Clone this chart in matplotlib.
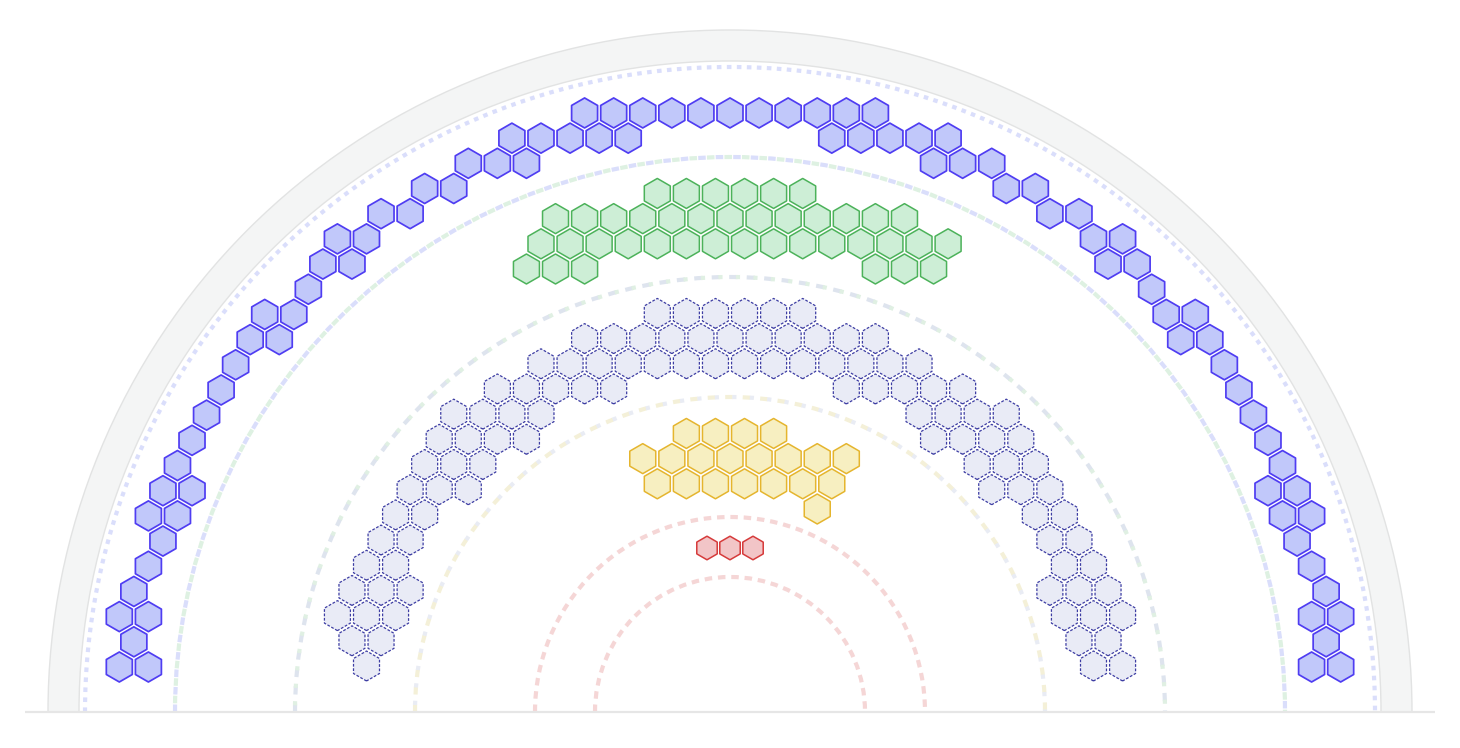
import numpy as np
import matplotlib.pyplot as plt
from matplotlib.patches import RegularPolygon, Wedge, Arc

# seat layout per party: rows listed from the bottom row upwards,
# each row holds column positions in half-hex steps (0 = centre line)
blue_rows = [
    [-42, -40, 40, 42], [-41, 41], [-42, -40, 40, 42], [-41, 41],
    [-40, 40], [-39, 39], [-40, -38, 38, 40], [-39, -37, 37, 39],
    [-38, 38], [-37, 37], [-36, 36], [-35, 35], [-34, 34],
    [-33, -31, 31, 33], [-32, -30, 30, 32], [-29, 29],
    [-28, -26, 26, 28], [-27, -25, 25, 27], [-24, -22, 22, 24],
    [-21, -19, 19, 21], [-18, -16, -14, 14, 16, 18],
    [-15, -13, -11, -9, -7, 7, 9, 11, 13, 15],
    [-10, -8, -6, -4, -2, 0, 2, 4, 6, 8, 10],
]
green_rows = [
    [-14, -12, -10, 10, 12, 14],
    [-13, -11, -9, -7, -5, -3, -1, 1, 3, 5, 7, 9, 11, 13, 15],
    [-12, -10, -8, -6, -4, -2, 0, 2, 4, 6, 8, 10, 12],
    [-5, -3, -1, 1, 3, 5],
]
grey_rows = [
    [-25, 25, 27], [-26, -24, 24, 26], [-27, -25, -23, 23, 25, 27],
    [-26, -24, -22, 22, 24, 26], [-25, -23, 23, 25], [-24, -22, 22, 24],
    [-23, -21, 21, 23], [-22, -20, -18, 18, 20, 22],
    [-21, -19, -17, 17, 19, 21], [-20, -18, -16, -14, 14, 16, 18, 20],
    [-19, -17, -15, -13, 13, 15, 17, 19],
    [-16, -14, -12, -10, -8, 8, 10, 12, 14, 16],
    [-13, -11, -9, -7, -5, -3, -1, 1, 3, 5, 7, 9, 11, 13],
    [-10, -8, -6, -4, -2, 0, 2, 4, 6, 8, 10],
    [-5, -3, -1, 1, 3, 5],
]
yellow_rows = [
    [6],
    [-5, -3, -1, 1, 3, 5, 7],
    [-6, -4, -2, 0, 2, 4, 6, 8],
    [-3, -1, 1, 3],
]
red_rows = [
    [-2, 0, 2],
]

W, H = 1460, 748
cx, cy = 730, 712

groups = [
    dict(rows=blue_rows, base=45, pitch=29.08, r=15.0,
         fc='#c1c8fa', ec='#4f3df2', ls='-', lw=1.25),
    dict(rows=green_rows, base=443, pitch=29.08, r=15.0,
         fc='#cdeed6', ec='#4cb25a', ls='-', lw=1.1),
    dict(rows=grey_rows, base=46, pitch=29.08, r=15.0,
         fc='#e9ebf6', ec='#3d3da3', ls=(0, (2.2, 1.3)), lw=0.9),
    dict(rows=yellow_rows, base=203, pitch=29.08, r=15.0,
         fc='#f7efc1', ec='#e5b52e', ls='-', lw=1.1),
    dict(rows=red_rows, base=164, pitch=23.0, r=11.8,
         fc='#f2c5c7', ec='#d63b3b', ls='-', lw=1.1),
]

# (radius, colour, dash on, dash off, offset) - dash units are linewidths
rings = [
    (645, '#dadefb', 1.1, 1.3, 0),
    (555, '#dadefb', 1.8, 2.4, 0),
    (555, '#def1e2', 1.8, 2.4, 2.1),
    (435, '#dee4ee', 2.0, 2.2, 0),
    (435, '#e0f0e3', 1.0, 3.2, 2.6),
    (315, '#f4f0d8', 1.8, 2.4, 0),
    (315, '#e9ecf4', 1.0, 3.2, 2.5),
    (195, '#f5d6d6', 1.8, 1.4, 0),
    (135, '#f5d6d6', 1.8, 1.4, 0),
]

fig = plt.figure(figsize=(W / 100, H / 100), dpi=100)
ax = fig.add_axes([0, 0, 1, 1])
ax.set_xlim(0, W)
ax.set_ylim(H, 0)
ax.axis('off')

# outer grey band
ax.add_patch(Wedge((cx, cy), 682, 180, 360, width=31,
                   facecolor='#f4f5f5', edgecolor='#e2e3e3', lw=1.0))

for rad, col, on, off, offs in rings:
    ax.add_patch(Arc((cx, cy), 2 * rad, 2 * rad, theta1=180, theta2=360,
                     color=col, lw=3.0, linestyle=(offs, (on, off))))

ax.plot([25, 1435], [cy, cy], color='#e6e6e6', lw=1.6,
        solid_capstyle='butt')

for g in groups:
    dx = g['pitch'] / 2
    dy = g['pitch'] * np.sqrt(3) / 2
    for j, row in enumerate(g['rows']):
        y = cy - (g['base'] + j * dy)
        for k in row:
            ax.add_patch(RegularPolygon((cx + k * dx, y), 6, radius=g['r'],
                                        facecolor=g['fc'], edgecolor=g['ec'],
                                        lw=g['lw'], linestyle=g['ls'],
                                        joinstyle='round'))

fig.savefig('out.png', dpi=100, facecolor='white')
